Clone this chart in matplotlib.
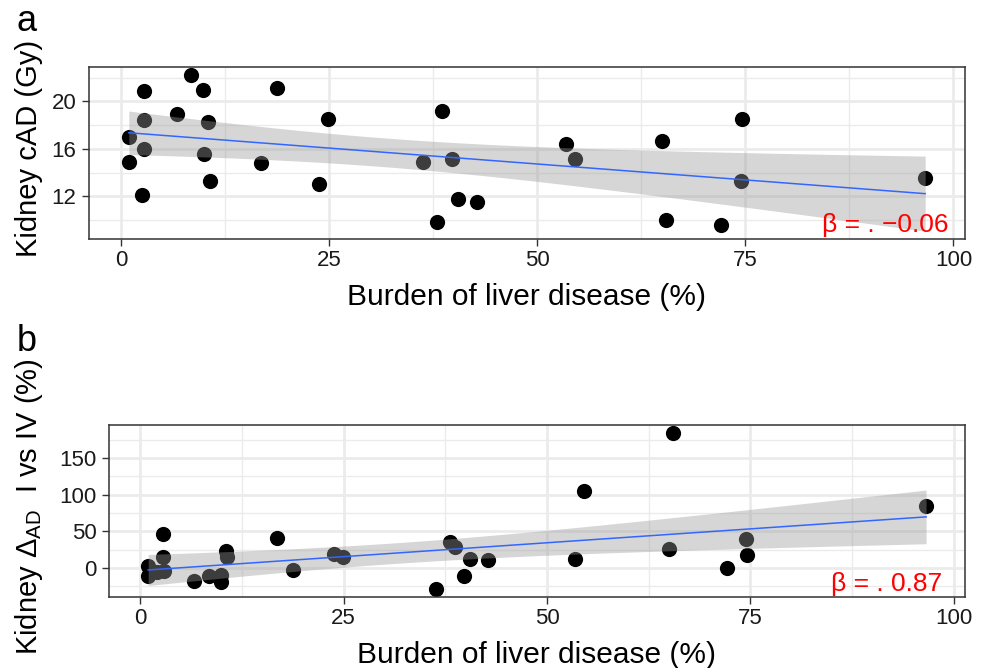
import matplotlib
matplotlib.use('Agg')
import matplotlib.pyplot as plt
from matplotlib.ticker import MultipleLocator
import numpy as np

plt.rcParams['font.family'] = ['Liberation Sans', 'DejaVu Sans']
plt.rcParams['mathtext.fontset'] = 'custom'
plt.rcParams['mathtext.rm'] = 'Liberation Sans'
plt.rcParams['mathtext.it'] = 'Liberation Sans:italic'

#---Panel a data: burden (%) vs kidney cAD (Gy)---
burden_a = [0.96, 0.96, 2.76, 2.76, 2.76, 2.52, 6.72, 8.48, 9.84, 10.48,
            10.0, 10.68, 16.8, 18.76, 23.84, 24.92, 36.28, 37.96, 38.63, 39.79,
            40.55, 42.75, 53.43, 54.55, 64.95, 65.46, 72.06, 74.58, 74.54, 96.6]
cad_a = [16.97, 14.88, 20.86, 18.44, 15.97, 12.13, 18.92, 22.25, 20.94, 18.3,
         15.58, 13.25, 14.83, 21.13, 13.0, 18.5, 14.92, 9.8, 19.19, 15.13,
         11.75, 11.55, 16.42, 15.17, 16.63, 10.03, 9.61, 18.55, 13.33, 13.5]

#---Panel b data: burden (%) vs kidney delta AD I vs IV (%)---
burden_b = [0.98, 0.98, 2.75, 2.83, 2.1, 2.9, 6.67, 8.43, 9.9, 9.99,
            10.56, 10.72, 16.78, 18.83, 23.8, 24.9, 36.3, 38.05, 38.75, 39.77,
            40.5, 42.7, 53.4, 54.5, 65.5, 65.0, 72.1, 74.5, 74.6, 96.6]
delta_b = [3.1, -11.2, 47.2, 15.8, -5.8, -3.6, -17.5, -10.3, -9.4, -19.3,
           23.3, 15.3, 40.9, -2.2, 19.8, 15.3, -28.3, 35.5, 28.8, -10.3,
           12.1, 11.2, 12.1, 105.1, 184.6, 26.5, -0.4, 39.1, 17.5, 84.5]

beta_a = 'β = . −0.06'
beta_b = 'β = . 0.87'

T_CRIT = 2.048  # t(0.975, df=28)


def fit_ci(x, y):
    x = np.asarray(x, float)
    y = np.asarray(y, float)
    n = len(x)
    b1, b0 = np.polyfit(x, y, 1)
    res = y - (b0 + b1 * x)
    s = np.sqrt(np.sum(res ** 2) / (n - 2))
    xg = np.linspace(x.min(), x.max(), 80)
    yg = b0 + b1 * xg
    se = s * np.sqrt(1 / n + (xg - x.mean()) ** 2 / np.sum((x - x.mean()) ** 2))
    return xg, yg, yg - T_CRIT * se, yg + T_CRIT * se


def panel(ax, x, y, yticks, beta, bx, by):
    x = np.asarray(x, float)
    y = np.asarray(y, float)
    xg, yg, lo, hi = fit_ci(x, y)

    ax.scatter(x, y, s=120, color='black', linewidths=0, zorder=2)
    ax.fill_between(xg, lo, hi, color='#999999', alpha=0.4, linewidth=0, zorder=3)
    ax.plot(xg, yg, color='#3366FF', lw=1.1, zorder=4)

    # ggplot style 5% expansion
    xr = x.max() - x.min()
    ax.set_xlim(x.min() - 0.05 * xr, x.max() + 0.05 * xr)
    ymin = min(y.min(), lo.min())
    ymax = max(y.max(), hi.max())
    yr = ymax - ymin
    ax.set_ylim(ymin - 0.05 * yr, ymax + 0.05 * yr)

    ax.set_xticks([0, 25, 50, 75, 100])
    ax.set_yticks(yticks)
    ax.xaxis.set_minor_locator(MultipleLocator(12.5))
    ax.yaxis.set_minor_locator(MultipleLocator((yticks[1] - yticks[0]) / 2))
    ax.grid(which='major', color='#ebebeb', lw=2.0, zorder=0)
    ax.grid(which='minor', color='#ebebeb', lw=1.0, zorder=0)
    ax.set_axisbelow(True)
    ax.tick_params(which='minor', length=0)
    ax.tick_params(which='major', length=5, width=1.0, color='#333333',
                   labelsize=16, labelcolor='#1a1a1a')
    ax.tick_params(axis='x', pad=3)
    ax.tick_params(axis='y', pad=4)
    for sp in ax.spines.values():
        sp.set_color('#333333')
        sp.set_linewidth(1.1)

    ax.text(bx, by, beta, transform=ax.transAxes, ha='right', va='baseline',
            color='red', fontsize=19, zorder=5)


fig = plt.figure(figsize=(9.88, 6.68), dpi=100)

ax1 = fig.add_axes([0.0901, 0.6422, 0.8866, 0.2575])
panel(ax1, burden_a, cad_a, [12, 16, 20], beta_a, 0.981, 0.039)

ax2 = fig.add_axes([0.1106, 0.1067, 0.8661, 0.2571])
panel(ax2, burden_b, delta_b, [0, 50, 100, 150], beta_b, 0.973, 0.033)

#---Axis titles and panel tags---
fig.text(0.5334, 0.5434, 'Burden of liver disease (%)', ha='center', va='baseline', fontsize=21.5)
fig.text(0.5435, 0.0075, 'Burden of liver disease (%)', ha='center', va='baseline', fontsize=21.5)
fig.text(0.029, 0.778, 'Kidney cAD (Gy)', rotation=90, ha='center', va='center', fontsize=21)
fig.text(0.029, 0.2418, r'Kidney $\Delta_{\mathrm{AD}}$  I vs IV (%)', rotation=90,
         ha='center', va='center', fontsize=21)
fig.text(0.017, 0.953, 'a', ha='left', va='baseline', fontsize=26)
fig.text(0.017, 0.474, 'b', ha='left', va='baseline', fontsize=26)

fig.savefig('out.png', dpi=100)
